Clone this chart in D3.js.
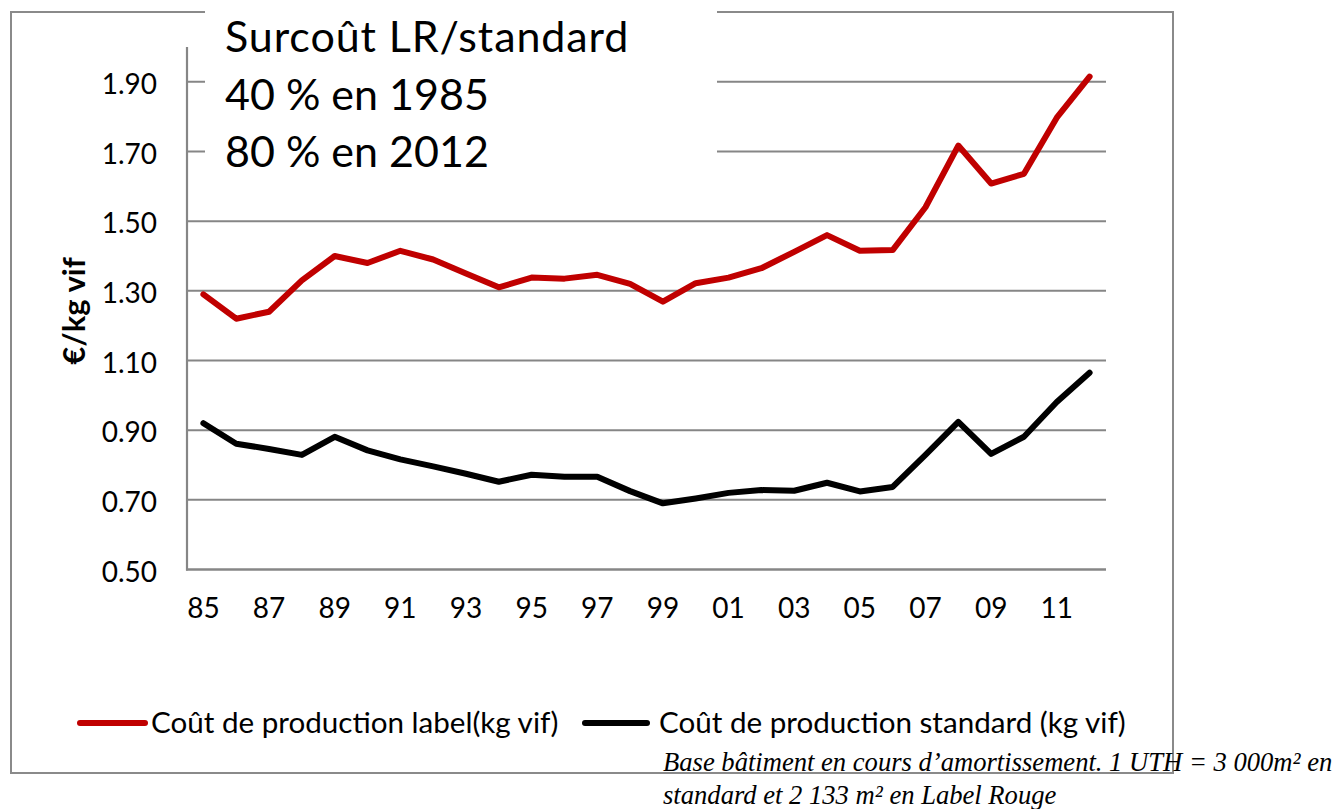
<!DOCTYPE html>
<html>
<head>
<meta charset="utf-8">
<script src="https://cdn.jsdelivr.net/npm/d3@7"></script>
<style>
  html, body { margin: 0; padding: 0; background: #fff; }
  svg { display: block; }
</style>
</head>
<body>
<svg id="chart" width="1341" height="809"></svg>
<script>
// ---- Data ----
const years = ["85","86","87","88","89","90","91","92","93","94","95","96","97","98","99","00","01","02","03","04","05","06","07","08","09","10","11","12"];
const labelCost = [1.29,1.22,1.24,1.33,1.40,1.38,1.415,1.39,1.35,1.31,1.338,1.335,1.346,1.32,1.269,1.322,1.338,1.365,1.412,1.46,1.415,1.417,1.54,1.717,1.608,1.636,1.797,1.915];
const standardCost = [0.92,0.861,0.846,0.829,0.881,0.842,0.816,0.796,0.775,0.752,0.772,0.766,0.766,0.725,0.69,0.704,0.72,0.728,0.726,0.749,0.724,0.737,0.829,0.924,0.832,0.881,0.981,1.065];
const yTicks = [0.5,0.7,0.9,1.1,1.3,1.5,1.7,1.9];
const xTickLabels = ["85","87","89","91","93","95","97","99","01","03","05","07","09","11"];
const seriesNames = ["Coût de production label(kg vif)", "Coût de production standard (kg vif)"];
const yTitle = "€/kg vif";
const boxLines = ["Surcoût LR/standard", "40 % en 1985", "80 % en 2012"];
const noteLines = ["Base bâtiment en cours d\u2019amortissement. 1 UTH = 3 000m² en", "standard et 2 133 m² en Label Rouge"];

// ---- Layout ----
const svg = d3.select("#chart");
const plot = {left: 187, right: 1106, top: 47, bottom: 569.5};
const gridColor = "#868686";
const sans = "Lato, 'Open Sans', sans-serif";

const x = d3.scaleBand().domain(years).range([plot.left, plot.right]);
const y = d3.scaleLinear().domain([0.5, 2.0]).range([plot.bottom, plot.top]);
const cx = d => x(d) + x.bandwidth() / 2;

// outer border
svg.append("rect")
  .attr("x", 11).attr("y", 12).attr("width", 1162).attr("height", 761)
  .attr("fill", "none").attr("stroke", "#8a8a8a").attr("stroke-width", 2);

// gridlines
svg.append("g").selectAll("line").data(yTicks.filter(t => t > 0.5)).join("line")
  .attr("x1", plot.left).attr("x2", plot.right)
  .attr("y1", d => y(d)).attr("y2", d => y(d))
  .attr("stroke", gridColor).attr("stroke-width", 2);

// axes lines
svg.append("line").attr("x1", plot.left).attr("x2", plot.left)
  .attr("y1", plot.top).attr("y2", plot.bottom + 1)
  .attr("stroke", gridColor).attr("stroke-width", 2.2);
svg.append("line").attr("x1", plot.left - 1).attr("x2", plot.right)
  .attr("y1", plot.bottom).attr("y2", plot.bottom)
  .attr("stroke", gridColor).attr("stroke-width", 2.5);

// y tick labels
const yAxis = d3.axisLeft(y).tickValues(yTicks).tickFormat(d3.format(".2f")).tickSize(0).tickPadding(30);
const ya = svg.append("g").attr("transform", `translate(${plot.left},0)`).call(yAxis);
ya.select(".domain").remove();
ya.selectAll("text").attr("font-family", sans).attr("font-size", 28).attr("fill", "#000").attr("dy", "0.42em");

// x tick labels
const xAxis = d3.axisBottom(x).tickValues(xTickLabels).tickSize(0).tickPadding(29);
const xa = svg.append("g").attr("transform", `translate(0,${plot.bottom})`).call(xAxis);
xa.select(".domain").remove();
xa.selectAll("text").attr("font-family", sans).attr("font-size", 28).attr("fill", "#000");

// y title
svg.append("text")
  .attr("transform", "translate(85,311) rotate(-90)")
  .attr("text-anchor", "middle")
  .attr("font-family", sans).attr("font-weight", "bold").attr("font-size", 31)
  .text(yTitle);

// white text box
svg.append("rect").attr("x", 205).attr("y", 0).attr("width", 512).attr("height", 195).attr("fill", "#fff");
svg.append("g").selectAll("text").data(boxLines).join("text")
  .attr("x", 225).attr("y", (d, i) => 52 + i * 57.5)
  .attr("font-family", sans).attr("font-size", 43).attr("fill", "#000")
  .attr("letter-spacing", (d, i) => i === 0 ? 0.9 : 0)
  .text(d => d);

// lines
const line = d3.line().x((d, i) => cx(years[i])).y(d => y(d));
const colors = ["#c00000", "#000000"];
[labelCost, standardCost].forEach((s, k) => {
  svg.append("path").datum(s).attr("d", line)
    .attr("fill", "none").attr("stroke", colors[k]).attr("stroke-width", 6)
    .attr("stroke-linejoin", "round").attr("stroke-linecap", "round");
});

// legend
const legendItems = [{x1: 80, x2: 145, tx: 151}, {x1: 585, x2: 647, tx: 659}];
legendItems.forEach((it, k) => {
  svg.append("line").attr("x1", it.x1).attr("x2", it.x2).attr("y1", 723).attr("y2", 723)
    .attr("stroke", colors[k]).attr("stroke-width", 6).attr("stroke-linecap", "round");
  svg.append("text").attr("x", it.tx).attr("y", 733)
    .attr("font-family", sans).attr("font-size", 29.6).attr("fill", "#000")
    .text(seriesNames[k]);
});

// footnote
svg.append("g").selectAll("text").data(noteLines).join("text")
  .attr("x", 663).attr("y", (d, i) => 771 + i * 33)
  .attr("font-family", "'Liberation Serif', 'Times New Roman', serif")
  .attr("font-style", "italic").attr("font-size", 26.6).attr("fill", "#000")
  .text(d => d);
</script>
</body>
</html>
